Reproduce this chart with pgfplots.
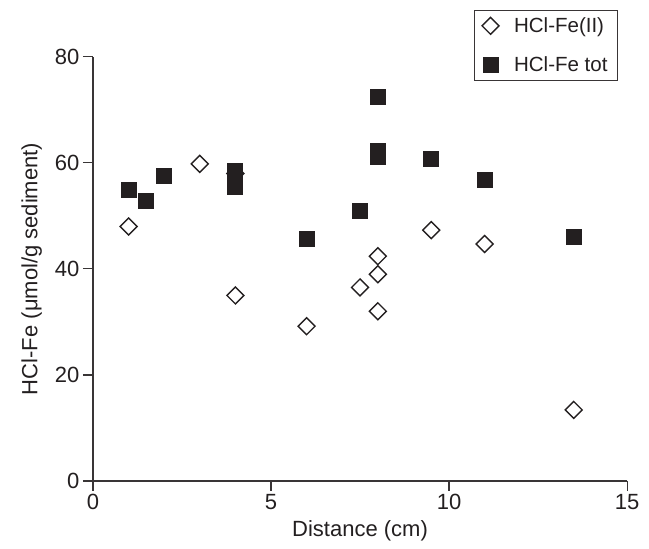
\documentclass[border=0pt]{standalone}
\usepackage{fontspec}
\setmainfont{Liberation Sans}
\usepackage{pgfplots}
\pgfplotsset{compat=1.18}

\definecolor{ink}{HTML}{231F20}

\begin{document}
\begin{tikzpicture}
\begin{axis}[
    scale only axis,
    width=534pt, height=424pt,
    xmin=0, xmax=15, ymin=0, ymax=80,
    axis x line=bottom, axis y line=left,
    axis line style={-, line width=1.2pt, draw=ink!90},
    xtick={0,5,10,15}, ytick={0,20,40,60,80},
    tick align=outside, major tick length=10pt,
    tick style={line width=1.2pt, draw=ink!90},
    /pgf/number format/assume math mode=true,
    tick label style={font=\fontsize{22}{26}\selectfont, text=ink},
    label style={font=\fontsize{22}{26}\selectfont, text=ink},
    xlabel={Distance (cm)},
    xlabel style={yshift=-4pt},
    ylabel={HCl-Fe (μmol/g sediment)},
    ylabel style={yshift=6pt},
    clip=false,
    legend style={at={(0.983,1.11)}, anchor=north east,
        draw=ink!90, line width=1pt,
        font=\fontsize{20.5}{24}\selectfont, text=ink,
        row sep=19pt, column sep=13pt, inner xsep=8pt, inner ysep=5pt},
    legend cell align=left,
]
\addplot[only marks, mark=square, mark size=6pt,
    mark options={rotate=45, draw=ink, line width=1.4pt, fill=white}]
coordinates {
(1,48) (3,59.8) (4,58) (4,35) (6,29.2) (7.5,36.5) (8,42.4) (8,39)
(8,32) (9.5,47.3) (11,44.7) (13.5,13.4)
};
\addlegendentry{HCl-Fe(II)}
\addplot[only marks, mark=square*, mark size=7.5pt,
    mark options={draw=ink, fill=ink, line width=0pt}]
coordinates {
(1,54.8) (1.5,52.9) (2,57.6) (4,58.5) (4,55.5) (6,45.7) (7.5,51)
(8,72.4) (8,62.2) (8,61.1) (9.5,60.8) (11,56.7) (13.5,46.1)
};
\addlegendentry{HCl-Fe tot}
\path (rel axis cs:-0.174,-0.160) rectangle (rel axis cs:1.041,1.134);
\end{axis}
\end{tikzpicture}
\end{document}
